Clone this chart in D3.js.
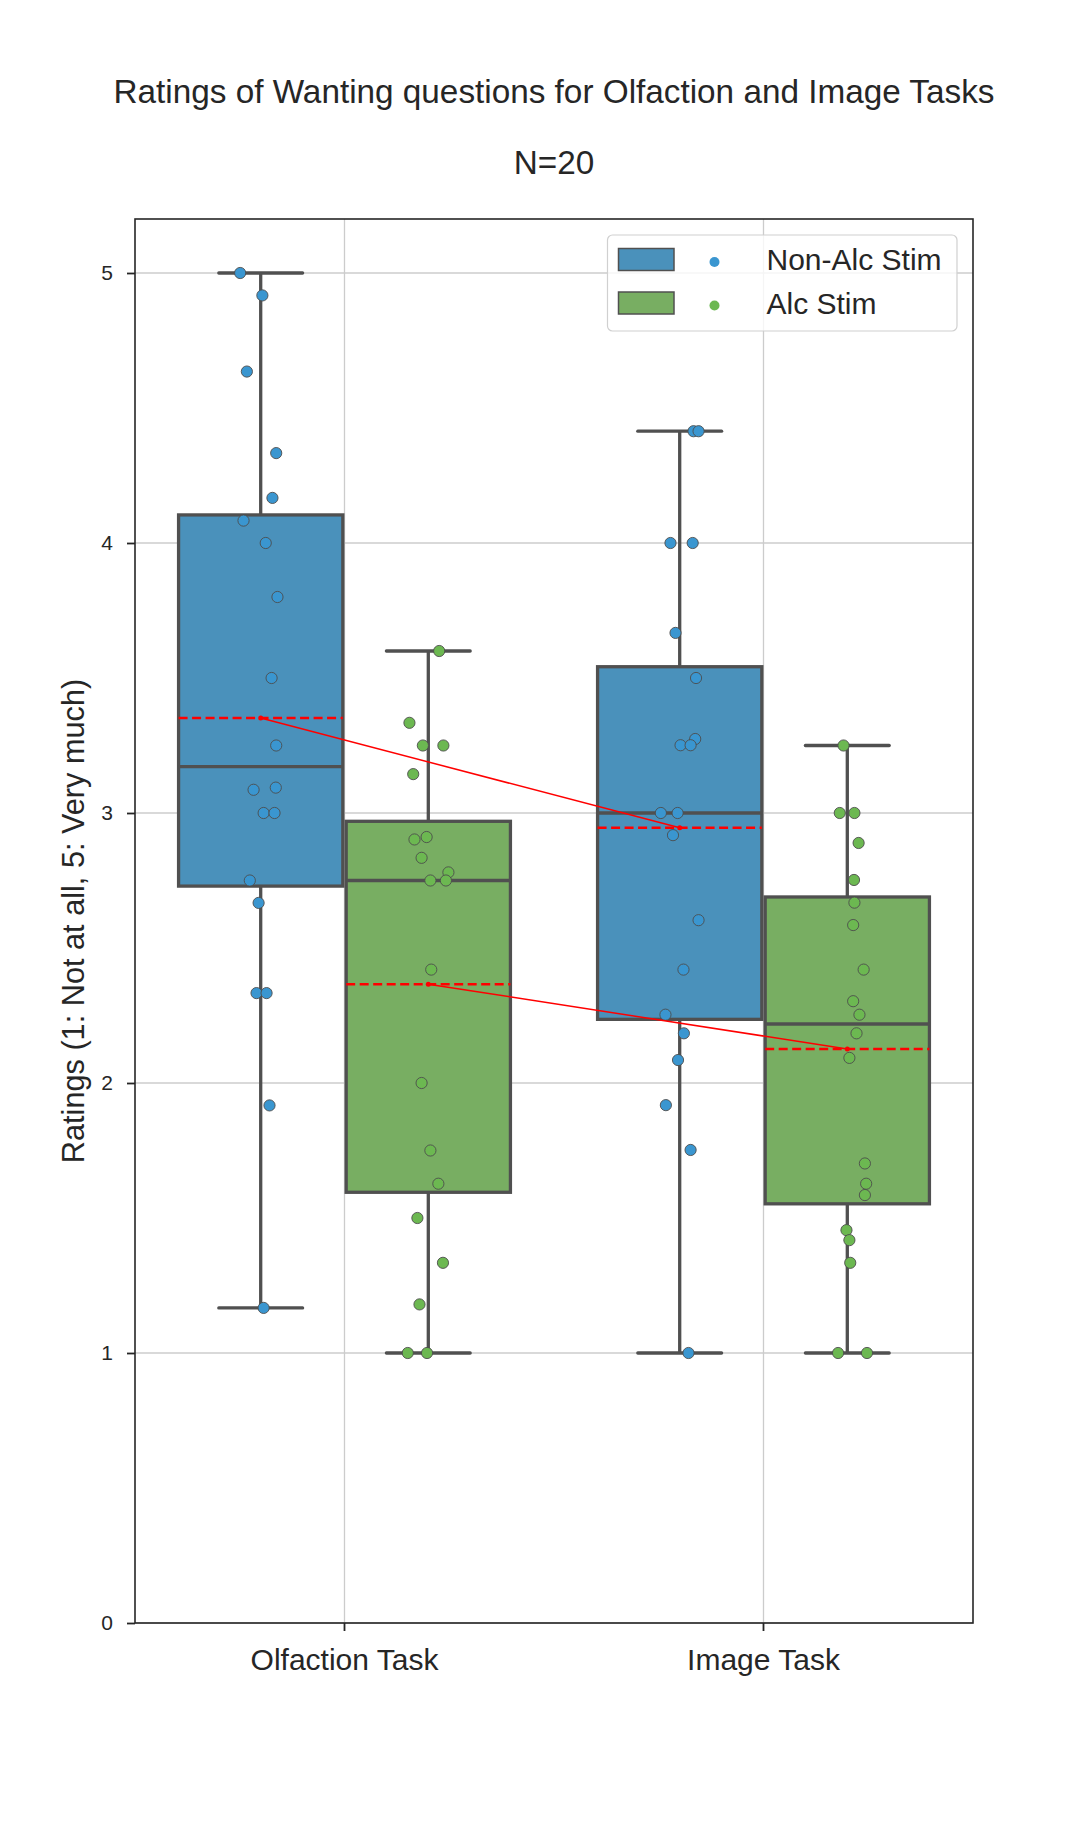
<!DOCTYPE html>
<html><head><meta charset="utf-8">
<script src="https://cdn.jsdelivr.net/npm/d3@7"></script>
<style>
body{margin:0;background:#fff}
svg{display:block}
text{font-family:"Liberation Sans",Arial,sans-serif;fill:#262626}
</style>
</head><body>
<svg id="chart" width="1080" height="1825"></svg>
<script>
// ---------- data ----------
const tasks = ["Olfaction Task", "Image Task"];
const stims = ["Non-Alc Stim", "Alc Stim"];
const yTicks = [0, 1, 2, 3, 4, 5];

const olfNonAlc = [5.0, 4.917, 4.635, 4.333, 4.167, 4.083, 4.0, 3.8, 3.5, 3.25, 3.086, 3.094, 3.0, 3.0, 2.75, 2.667, 2.333, 2.333, 1.917, 1.167];
const olfNonAlcJitter = [-0.049, 0.004, -0.033, 0.037, 0.028, -0.041, 0.012, 0.040, 0.026, 0.037, -0.017, 0.036, 0.007, 0.033, -0.026, -0.005, -0.010, 0.014, 0.021, 0.007];

const olfAlc = [3.6, 3.334, 3.25, 3.25, 3.144, 2.911, 2.902, 2.834, 2.78, 2.75, 2.75, 2.42, 2.0, 1.75, 1.627, 1.5, 1.334, 1.18, 1.0, 1.0];
const olfAlcJitter = [0.026, -0.045, -0.013, 0.036, -0.036, -0.004, -0.033, -0.016, 0.048, 0.005, 0.042, 0.007, -0.016, 0.005, 0.024, -0.026, 0.035, -0.021, -0.049, -0.003];

const imgNonAlc = [4.414, 4.414, 4.0, 4.0, 3.667, 3.5, 3.274, 3.251, 3.251, 3.0, 3.0, 2.918, 2.603, 2.42, 2.253, 2.184, 2.085, 1.918, 1.752, 1.0];
const imgNonAlcJitter = [0.033, 0.045, -0.022, 0.031, -0.010, 0.039, 0.037, 0.002, 0.026, -0.045, -0.005, -0.016, 0.045, 0.009, -0.034, 0.010, -0.004, -0.033, 0.026, 0.021];

const imgAlc = [3.25, 3.0, 3.0, 2.889, 2.752, 2.668, 2.585, 2.42, 2.303, 2.253, 2.184, 2.093, 1.702, 1.627, 1.585, 1.455, 1.418, 1.334, 1.0, 1.0];
const imgAlcJitter = [-0.009, -0.018, 0.017, 0.027, 0.016, 0.017, 0.014, 0.039, 0.014, 0.029, 0.022, 0.005, 0.042, 0.045, 0.042, -0.002, 0.005, 0.007, -0.022, 0.047];

const pointColors = ["#3a96d0", "#6cb851"];
const boxColors = ["#4a91bb", "#78ae62"];

const groups = [
  {task: tasks[0], stim: stims[0], values: olfNonAlc, jitter: olfNonAlcJitter},
  {task: tasks[0], stim: stims[1], values: olfAlc, jitter: olfAlcJitter},
  {task: tasks[1], stim: stims[0], values: imgNonAlc, jitter: imgNonAlcJitter},
  {task: tasks[1], stim: stims[1], values: imgAlc, jitter: imgAlcJitter}
];

// ---------- layout ----------
const L = 135, R = 973, T = 219, B = 1623;
const svg = d3.select("#chart");
const x = d3.scaleBand().domain(tasks).range([L, R]).padding(0);
const bw = x.bandwidth();
const xHue = d3.scaleBand().domain(stims).range([-0.4 * bw, 0.4 * bw]);
const y = d3.scaleLinear().domain([0, 5.2]).range([B, T]);
const color = d3.scaleOrdinal().domain(stims).range(pointColors);
const boxColor = d3.scaleOrdinal().domain(stims).range(boxColors);
const cx = g => x(g.task) + bw / 2 + xHue(g.stim) + xHue.bandwidth() / 2;
const boxW = xHue.bandwidth() * 0.98;
const capW = xHue.bandwidth() * 0.5;
const edge = "#505050";
const lw = 3.3;

// stats
groups.forEach(g => {
  const s = g.values.slice().sort(d3.ascending);
  g.q1 = d3.quantile(s, 0.25);
  g.med = d3.quantile(s, 0.5);
  g.q3 = d3.quantile(s, 0.75);
  const iqr = g.q3 - g.q1;
  g.lo = d3.min(s.filter(v => v >= g.q1 - 1.5 * iqr));
  g.hi = d3.max(s.filter(v => v <= g.q3 + 1.5 * iqr));
  g.mean = d3.mean(s);
});

// grid
svg.append("g").selectAll("line").data(yTicks).join("line")
  .attr("x1", L).attr("x2", R).attr("y1", d => y(d)).attr("y2", d => y(d))
  .attr("stroke", "#cccccc").attr("stroke-width", 1.3);
svg.append("g").selectAll("line").data(tasks).join("line")
  .attr("x1", d => x(d) + bw / 2).attr("x2", d => x(d) + bw / 2).attr("y1", T).attr("y2", B)
  .attr("stroke", "#cccccc").attr("stroke-width", 1.3);

// boxes
const bx = svg.append("g");
groups.forEach(g => {
  const c = cx(g);
  bx.append("line").attr("x1", c).attr("x2", c).attr("y1", y(g.q3)).attr("y2", y(g.hi))
    .attr("stroke", edge).attr("stroke-width", lw);
  bx.append("line").attr("x1", c).attr("x2", c).attr("y1", y(g.q1)).attr("y2", y(g.lo))
    .attr("stroke", edge).attr("stroke-width", lw);
  [g.hi, g.lo].forEach(v => bx.append("line")
    .attr("x1", c - capW / 2).attr("x2", c + capW / 2).attr("y1", y(v)).attr("y2", y(v))
    .attr("stroke", edge).attr("stroke-width", lw).attr("stroke-linecap", "round"));
  bx.append("rect").attr("x", c - boxW / 2).attr("width", boxW)
    .attr("y", y(g.q3)).attr("height", y(g.q1) - y(g.q3))
    .attr("fill", boxColor(g.stim)).attr("stroke", edge).attr("stroke-width", lw);
  bx.append("line").attr("x1", c - boxW / 2).attr("x2", c + boxW / 2)
    .attr("y1", y(g.med)).attr("y2", y(g.med)).attr("stroke", edge).attr("stroke-width", lw);
});

// points
const pts = svg.append("g");
groups.forEach(g => {
  pts.selectAll(null).data(g.values.map((v, i) => ({v, j: g.jitter[i]}))).join("circle")
    .attr("cx", d => cx(g) + d.j * bw).attr("cy", d => y(d.v)).attr("r", 5.6)
    .attr("fill", color(g.stim)).attr("stroke", "#4d4d4d").attr("stroke-width", 0.9);
});

// mean lines
const mg = svg.append("g");
groups.forEach(g => {
  const c = cx(g);
  mg.append("line").attr("x1", c - boxW / 2).attr("x2", c + boxW / 2)
    .attr("y1", y(g.mean)).attr("y2", y(g.mean))
    .attr("stroke", "#ff0000").attr("stroke-width", 2.5).attr("stroke-dasharray", "9,4.5");
});
stims.forEach(st => {
  const gs = groups.filter(g => g.stim === st);
  mg.append("path").attr("d", d3.line().x(g => cx(g)).y(g => y(g.mean))(gs))
    .attr("fill", "none").attr("stroke", "#ff0000").attr("stroke-width", 1.5);
  gs.forEach(g => mg.append("circle").attr("cx", cx(g)).attr("cy", y(g.mean)).attr("r", 2.5).attr("fill", "#ff0000"));
});

// axes
const yAxis = d3.axisLeft(y).tickValues(yTicks).tickSize(8).tickPadding(14).tickFormat(d3.format("d"));
const ya = svg.append("g").attr("transform", `translate(${L},0)`).call(yAxis);
const xAxis = d3.axisBottom(x).tickSize(8).tickPadding(18);
const xa = svg.append("g").attr("transform", `translate(0,${B})`).call(xAxis);
[ya, xa].forEach(a => {
  a.select(".domain").remove();
  a.selectAll(".tick line").attr("stroke", "#262626").attr("stroke-width", 1.8);
});
ya.selectAll(".tick text").attr("font-size", 21).attr("fill", "#262626").style("font-family", '"Liberation Sans",Arial,sans-serif');
xa.selectAll(".tick text").attr("font-size", 30).attr("fill", "#262626").style("font-family", '"Liberation Sans",Arial,sans-serif');

svg.append("rect").attr("x", L).attr("y", T).attr("width", R - L).attr("height", B - T)
  .attr("fill", "none").attr("stroke", "#262626").attr("stroke-width", 1.6);

// labels
svg.append("text").attr("x", (L + R) / 2).attr("y", 103).attr("text-anchor", "middle")
  .attr("font-size", 33.3).text("Ratings of Wanting questions for Olfaction and Image Tasks");
svg.append("text").attr("x", (L + R) / 2).attr("y", 174).attr("text-anchor", "middle")
  .attr("font-size", 33.3).text("N=20");
svg.append("text").attr("transform", `translate(84,${(T + B) / 2}) rotate(-90)`)
  .attr("text-anchor", "middle").attr("font-size", 30.7).text("Ratings (1: Not at all, 5: Very much)");

// legend
const lg = svg.append("g");
lg.append("rect").attr("x", 607.5).attr("y", 235).attr("width", 349.5).attr("height", 96).attr("rx", 5)
  .attr("fill", "#ffffff").attr("fill-opacity", 0.8).attr("stroke", "#d0d0d0").attr("stroke-width", 1.2);
stims.forEach((st, i) => {
  const yc = [259.5, 303][i];
  lg.append("rect").attr("x", 618.5).attr("y", yc - 11).attr("width", 55.5).attr("height", 22)
    .attr("fill", boxColor(st)).attr("stroke", edge).attr("stroke-width", 1.5);
  lg.append("circle").attr("cx", 714.5).attr("cy", yc + 2.5).attr("r", 5).attr("fill", color(st));
  lg.append("text").attr("x", 766.5).attr("y", yc + 10.5).attr("font-size", 30).text(st);
});
</script>
</body></html>
